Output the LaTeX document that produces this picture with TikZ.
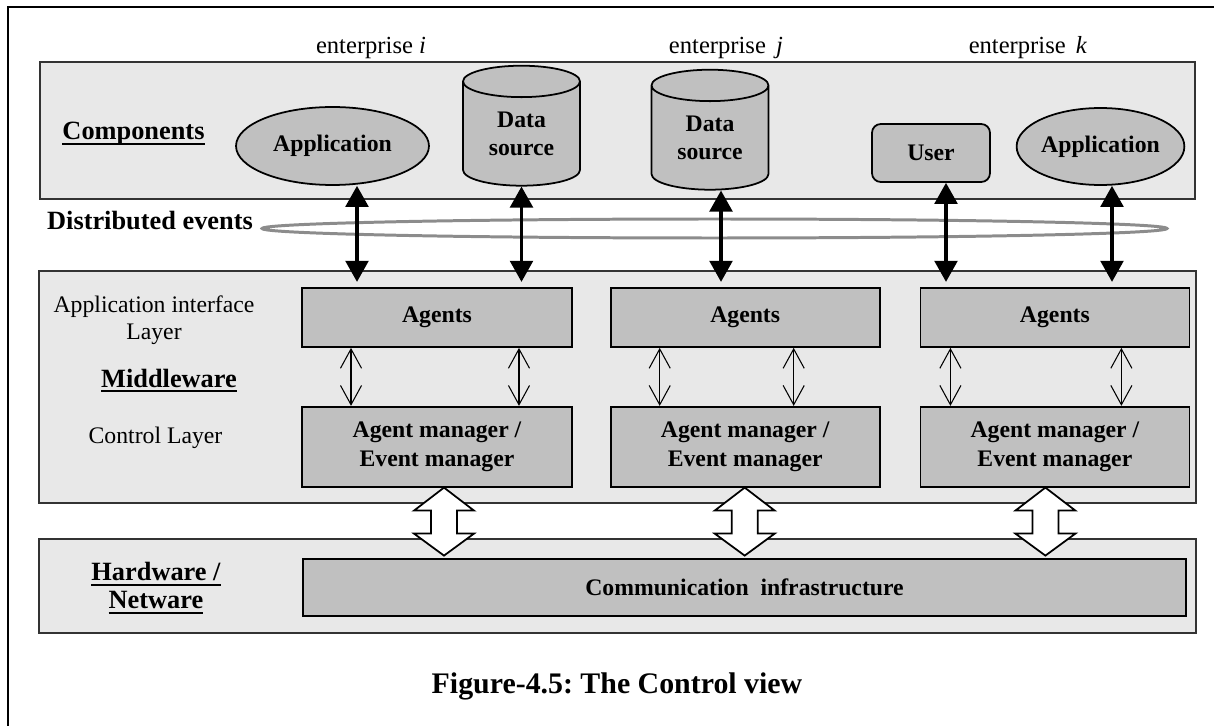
\documentclass[tikz,border=0pt]{standalone}
\usepackage{fontspec}
\setmainfont{Liberation Serif}
\usetikzlibrary{shapes.geometric,arrows.meta,calc,positioning}
\frenchspacing

\definecolor{layergray}{HTML}{E8E8E8}
\definecolor{boxgray}{HTML}{C0C0C0}
\definecolor{ringgray}{HTML}{8C8C8C}

% underlined heading, rule just below the baseline
\newcommand{\ulabel}[1]{\setbox0\hbox{#1}\rlap{\rule[-2.8pt]{\wd0}{1.1pt}}\box0}

\begin{document}
\begin{tikzpicture}[x=0.02cm, y=-0.02cm,
  layer/.style={draw=black!80, line width=0.8pt, fill=layergray},
  part/.style={draw, line width=1pt, fill=boxgray, inner sep=0pt, align=center,
    font=\fontsize{13.5}{16}\selectfont\bfseries},
  agentbox/.style={part, rectangle, minimum width=5.38cm, minimum height=1.18cm},
  managerbox/.style={part, rectangle, minimum width=5.38cm, minimum height=1.6cm},
  appnode/.style={part, ellipse},
  dbnode/.style={part, cylinder, shape border rotate=90, aspect=0.48,
    minimum width=2.34cm, minimum height=2.4cm},
  heading/.style={align=center, font=\fontsize{15}{15}\selectfont\bfseries},
  plain/.style={align=center, font=\fontsize{13.5}{15.3}\selectfont},
  evt/.style={{Triangle[length=12pt,width=13pt]}-{Triangle[length=12pt,width=13pt]},
    line width=1.8pt, shorten >=3pt},
  ctl/.style={{Straight Barb[length=11pt,width=12pt]}-{Straight Barb[length=11pt,width=12pt]},
    line width=0.6pt},
  hollow/.style={draw, line width=1pt, fill=white, line join=miter}]

  \useasboundingbox (0,0) rectangle (1214,726);
  % Frame
  \draw[line width=1pt] (8,726) -- (8,7) -- (1214,7);

  % Layers
  \draw[layer] (40,62) rectangle (1195,199);
  \draw[layer] (39,271) rectangle (1196,503);
  \draw[layer] (39,539) rectangle (1196,633);

  % Enterprises
  \node[plain, font=\fontsize{14}{16}\selectfont, anchor=base] (entI) at (371,54) {enterprise \textit{i}};
  \node[plain, font=\fontsize{14}{16}\selectfont, anchor=base] (entJ) at (726,54) {enterprise\, \textit{j}};
  \node[plain, font=\fontsize{14}{16}\selectfont, anchor=base] (entK) at (1028,54) {enterprise\, \textit{k}};

  % Components
  \node[heading, anchor=base] (compLabel) at (133.5,140) {\ulabel{Components}};
  \node[appnode, minimum width=3.86cm, minimum height=1.56cm] (appI) at (332.5,146) {Application};
  \node[dbnode] (dsI) at (521.5,134) {Data\\source};
  \node[dbnode] (dsJ) at (710,138) {Data\\source};
  \node[part, rounded corners=5pt, minimum width=2.36cm, minimum height=1.16cm] (user) at (931,153) {User};
  \node[appnode, minimum width=3.26cm, minimum height=1.54cm] (appK) at (1100.5,146.5) {Application};

  % Distributed events
  \node[heading, anchor=base] (evLabel) at (150,230) {Distributed events};
  \node[ellipse, draw=ringgray, line width=1.7pt, minimum width=18.1cm, minimum height=0.38cm,
    inner sep=0pt] (ring) at (714.5,228.5) {};

  % Middleware
  \node[plain] (apiLabel) at (154,320) {Application interface\\Layer};
  \node[heading, anchor=base] (midLabel) at (169,387) {\ulabel{Middleware}};
  \node[plain, anchor=base] (ctlLabel) at (155.5,443) {Control Layer};

  \node[agentbox, minimum width=5.4cm] (agI) at (437,317.5) {Agents};
  \node[agentbox, right=0.74cm of agI] (agJ) {Agents};
  \node[agentbox, right=0.78cm of agJ] (agK) {Agents};
  \node[managerbox, minimum width=5.4cm, below=1.16cm of agI] (mgI) {Agent manager /\\Event manager};
  \node[managerbox, below=1.16cm of agJ] (mgJ) {Agent manager /\\Event manager};
  \node[managerbox, below=1.16cm of agK] (mgK) {Agent manager /\\Event manager};

  % Hardware
  \node[heading] (hwLabel) at (156,588) {\ulabel{Hardware /}\\[1pt]\ulabel{Netware}};
  \node[part, minimum width=17.66cm, minimum height=1.14cm] (comm) at (744.5,587.5) {Communication\ \ infrastructure};

  % Caption
  \node[font=\fontsize{17}{20}\selectfont\bfseries, anchor=base] (caption) at (617,693) {Figure-4.5: The Control view};

  % Event arrows
  \draw[evt] ($(appI.south)+(24.5,0)$) -- ($(appI.south |- agI.north)+(24.5,0)$);
  \draw[evt] (dsI.south) -- (dsI.south |- agI.north);
  \draw[evt] ($(dsJ.south)+(11,0)$) -- ($(dsJ.south |- agJ.north)+(11,0)$);
  \draw[evt] ($(user.south)+(15,0)$) -- ($(user.south |- agK.north)+(15,0)$);
  \draw[evt] ($(appK.south)+(11.5,0)$) -- ($(appK.south |- agK.north)+(11.5,0)$);

  % Agents to managers
  \draw[ctl] ([xshift=-1.72cm]agI.south) -- ([xshift=-1.72cm]mgI.north);
  \draw[ctl] ([xshift=1.64cm]agI.south) -- ([xshift=1.64cm]mgI.north);
  \draw[ctl] ([xshift=-1.71cm]agJ.south) -- ([xshift=-1.71cm]mgJ.north);
  \draw[ctl] ([xshift=0.97cm]agJ.south) -- ([xshift=0.97cm]mgJ.north);
  \draw[ctl] ([xshift=-2.09cm]agK.south) -- ([xshift=-2.09cm]mgK.north);
  \draw[ctl] ([xshift=1.33cm]agK.south) -- ([xshift=1.33cm]mgK.north);

  % Managers to communication infrastructure
  \draw[hollow] ($(mgI.south)+(7,0)$) -- ++(30,23) -- ++(-17,0) -- ++(0,23) -- ++(17,0)
    -- ++(-30,22) -- ++(-30,-22) -- ++(17,0) -- ++(0,-23) -- ++(-17,0) -- cycle;
  \draw[hollow] ($(mgJ.south)+(-0.5,0)$) -- ++(30,23) -- ++(-17,0) -- ++(0,23) -- ++(17,0)
    -- ++(-30,22) -- ++(-30,-22) -- ++(17,0) -- ++(0,-23) -- ++(-17,0) -- cycle;
  \draw[hollow] ($(mgK.south)+(-9.5,0)$) -- ++(30,23) -- ++(-17,0) -- ++(0,23) -- ++(17,0)
    -- ++(-30,22) -- ++(-30,-22) -- ++(17,0) -- ++(0,-23) -- ++(-17,0) -- cycle;
\end{tikzpicture}
\end{document}
